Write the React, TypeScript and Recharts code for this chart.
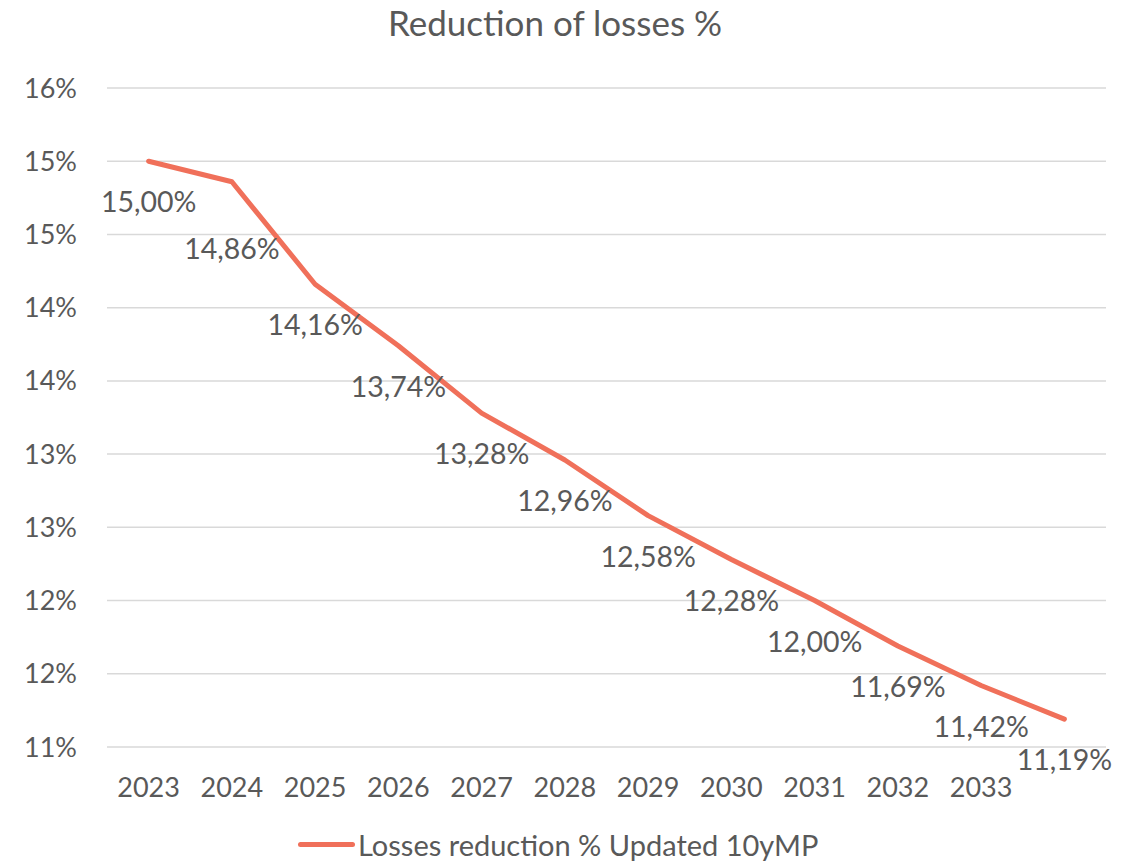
import { LineChart, Line, XAxis, YAxis, CartesianGrid } from "recharts";

const years = ["2023", "2024", "2025", "2026", "2027", "2028", "2029", "2030", "2031", "2032", "2033", ""];
const losses = [15.0, 14.86, 14.16, 13.74, 13.28, 12.96, 12.58, 12.28, 12.0, 11.69, 11.42, 11.19];
const yTicks = [11, 11.5, 12, 12.5, 13, 13.5, 14, 14.5, 15, 15.5];

const LINE = "#F0705A";
const TEXT = "#595959";
const FONT = "Lato, 'Open Sans', sans-serif";

const data = years.map((year, i) => ({ year, value: losses[i] }));

const fmtLabel = (v: number) => v.toFixed(2).replace(".", ",") + "%";

function PointLabel(props: any) {
  const { x, y, value, index } = props;
  // Excel pushed the second label further down to clear the line
  const off = index === 1 ? 67 : 41;
  return (
    <text
      x={x}
      y={y + off}
      dy="0.355em"
      textAnchor="middle"
      fill={TEXT}
      fontSize={28.5}
      fontFamily={FONT}
    >
      {fmtLabel(value)}
    </text>
  );
}

export default function App() {
  return (
    <div style={{ position: "relative", width: 1132, height: 863, background: "#fff", fontFamily: FONT }}>
      <style>{`body{margin:0}`}</style>
      <div
        style={{
          position: "absolute",
          top: 2,
          left: 0,
          width: 1110,
          height: 40,
          lineHeight: "40px",
          textAlign: "center",
          fontSize: 35,
          color: TEXT,
        }}
      >
        Reduction of losses %
      </div>
      <LineChart
        width={1132}
        height={863}
        data={data}
        margin={{ top: 88, right: 26, bottom: 56, left: 0 }}
      >
        <CartesianGrid vertical={false} stroke="#d9d9d9" strokeWidth={1.5} />
        <XAxis
          dataKey="year"
          scale="band"
          interval={0}
          axisLine={false}
          tickLine={false}
          tickSize={0}
          tickMargin={31}
          height={60}
          tick={{ fill: TEXT, fontSize: 27, fontFamily: FONT }}
        />
        <YAxis
          type="number"
          domain={[11, 15.5]}
          ticks={yTicks}
          interval={0}
          width={107}
          axisLine={false}
          tickLine={false}
          tickSize={0}
          tickMargin={30}
          tickFormatter={(v: number) => Math.round(v) + "%"}
          tick={{ fill: TEXT, fontSize: 27, fontFamily: FONT }}
        />
        <Line
          type="linear"
          dataKey="value"
          stroke={LINE}
          strokeWidth={5}
          strokeLinecap="round"
          strokeLinejoin="round"
          dot={false}
          activeDot={false}
          isAnimationActive={false}
          label={PointLabel}
        />
      </LineChart>
      <div
        style={{
          position: "absolute",
          top: 826,
          left: 298,
          height: 36,
          display: "flex",
          alignItems: "center",
          fontSize: 29,
          color: TEXT,
          whiteSpace: "nowrap",
        }}
      >
        <span
          style={{
            display: "inline-block",
            width: 57,
            height: 5,
            borderRadius: 3,
            background: LINE,
            marginRight: 3,
          }}
        />
        Losses reduction % Updated 10yMP
      </div>
    </div>
  );
}
